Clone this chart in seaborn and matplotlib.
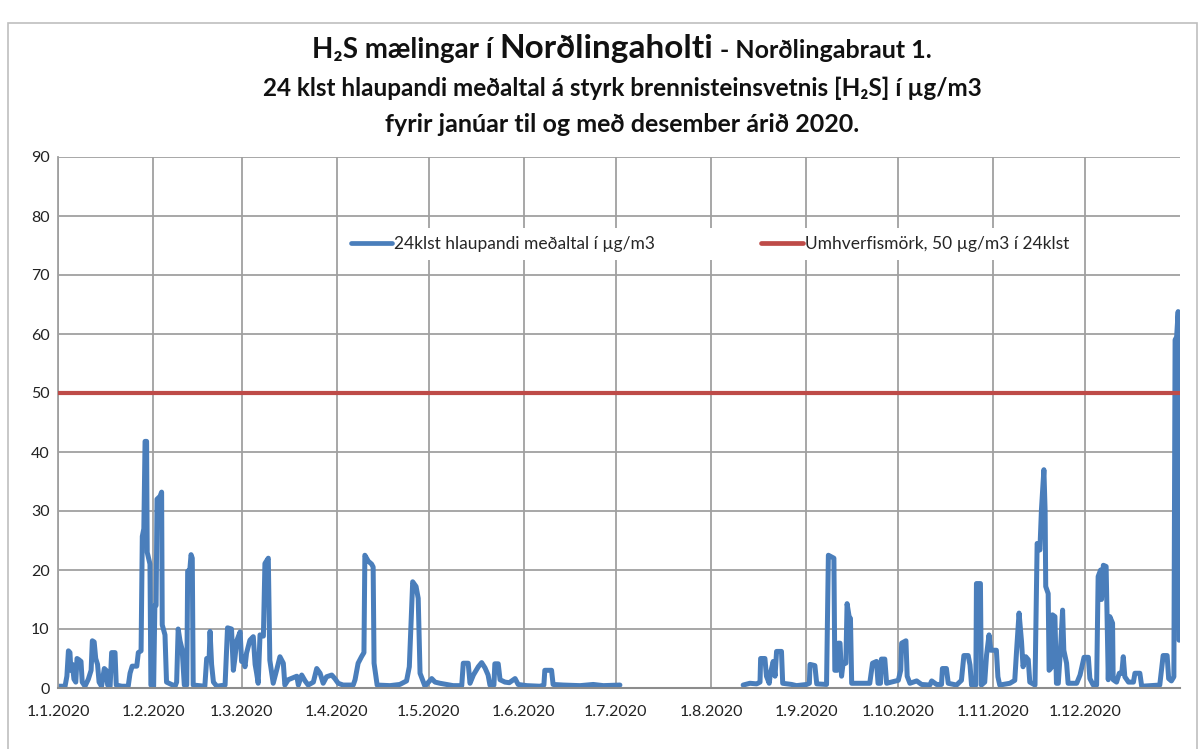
import pandas as pd
import seaborn as sns
import matplotlib.pyplot as plt
from matplotlib.patches import Rectangle

# 24h running mean of H2S (day of year 2020, ug/m3)
days_spring = [0.1, 2.3, 2.9, 3.4, 3.9, 4.2, 4.7, 5.2, 5.8, 6.2, 6.8, 7.5, 7.9, 8.8, 9.9, 10.8, 11.2, 11.8,
               12.3, 12.9, 13.4, 14.2, 15.1, 15.7, 16.2, 17.0, 17.5, 18.6, 19.0, 20.8, 22.9, 23.5, 24.2, 25.7,
               26.2, 27.1, 27.5, 28.0, 28.4, 28.9, 29.1, 30.0, 30.3, 31.2, 31.6, 32.0, 32.3, 33.3, 33.8, 34.0,
               34.9, 35.4, 38.2, 38.7, 39.2, 39.8, 40.5, 41.2, 42.0, 42.3, 43.0, 43.4, 43.8, 44.1, 47.9, 48.5,
               49.3, 49.6, 50.1, 50.7, 51.8, 54.5, 55.3, 56.6, 57.2, 57.7, 58.3, 59.4, 59.9, 60.4, 61.0, 61.5,
               62.6, 63.7, 64.3, 64.8, 65.3, 65.9, 67.0, 67.5, 68.6, 69.1, 70.2, 71.3, 72.4, 73.5, 74.0, 75.1,
               77.9, 78.4, 79.5, 80.6, 81.6, 83.3, 84.4, 85.5, 86.5, 87.6, 89.3, 90.3, 91.4, 93.0, 96.3, 96.9,
               97.9, 99.0, 99.8, 100.1, 101.2, 102.3, 102.8, 103.1, 103.7, 104.1, 108.3, 111.5, 113.7, 114.6,
               115.7, 116.8, 117.5, 118.1, 119.2, 119.7, 121.9, 123.0, 124.6, 128.9, 131.7, 132.2, 133.8,
               134.4, 135.5, 137.1, 138.2, 139.3, 140.3, 140.9, 142.2, 142.5, 143.6, 144.2, 145.8, 147.2,
               149.1, 150.1, 152.9, 157.2, 158.5, 158.8, 161.0, 161.5, 164.8, 170.3, 174.6, 177.9, 183.3]
h2s_spring = [0.3, 0.3, 2.0, 6.3, 6.0, 3.0, 4.0, 1.5, 1.0, 5.0, 4.8, 4.5, 1.0, 0.3, 1.5, 3.0, 8.0, 7.8,
              5.0, 4.0, 1.0, 0.3, 3.3, 3.0, 0.5, 0.3, 6.0, 6.0, 0.5, 0.3, 0.3, 2.5, 3.7, 3.7,
              6.0, 6.3, 25.7, 27.0, 41.8, 41.8, 23.0, 21.0, 0.5, 0.3, 14.0, 14.0, 32.0, 32.5, 33.2, 10.7,
              9.0, 1.0, 0.3, 1.0, 10.0, 8.0, 6.5, 0.5, 0.5, 19.8, 20.0, 22.6, 22.0, 0.5, 0.3, 5.0,
              5.0, 9.6, 4.0, 1.0, 0.3, 0.5, 10.2, 10.0, 3.0, 5.0, 8.0, 9.5, 4.5, 5.3, 3.6, 5.9,
              8.1, 8.7, 4.0, 2.5, 0.8, 9.0, 8.8, 21.1, 22.0, 4.7, 0.8, 3.0, 5.3, 4.2, 0.5, 1.4,
              2.0, 0.5, 2.2, 1.2, 0.5, 1.0, 3.3, 2.5, 0.8, 1.9, 2.2, 1.6, 0.8, 0.5, 0.5, 1.4,
              4.2, 5.3, 6.0, 22.5, 21.5, 21.0, 20.5, 4.2, 2.0, 0.5, 0.4, 0.6, 1.2, 3.6,
              18.0, 17.2, 15.2, 2.5, 1.0, 0.3, 1.6, 1.0, 0.8, 0.4, 0.4, 4.2, 4.2,
              0.8, 2.2, 3.6, 4.3, 3.4, 2.2, 0.5, 0.5, 4.1, 4.1, 1.4, 1.0, 0.9,
              1.6, 0.6, 0.4, 0.3, 0.5, 3.0, 3.0, 0.6, 0.5, 0.4, 0.6, 0.4, 0.5]

days_autumn = [223.5, 225.7, 227.9, 229.0, 229.2, 230.6, 231.1, 232.0, 232.4, 233.3, 233.9, 234.4, 236.0,
               236.4, 239.3, 240.9, 244.2, 245.1, 245.3, 246.9, 247.5, 250.7, 251.3, 253.1, 253.4, 254.2,
               254.5, 255.1, 255.6, 256.1, 257.0, 257.4, 258.1, 258.5, 258.9, 264.8, 265.7, 267.0, 267.5,
               268.3, 268.6, 269.7, 270.3, 274.1, 274.9, 275.2, 276.6, 277.0, 277.9, 280.1, 281.7, 284.4,
               285.0, 286.6, 288.2, 288.5, 289.8, 290.4, 293.1, 294.7, 295.5, 296.9, 297.5, 298.0, 299.4,
               299.6, 300.9, 301.2, 302.3, 302.9, 303.7, 304.3, 306.1, 306.6, 307.2, 310.5, 312.1, 312.7,
               313.5, 314.3, 314.8, 315.7, 316.5, 317.0, 318.7, 319.4, 320.3, 320.8, 321.6, 322.0, 322.2,
               323.0, 323.3, 324.1, 324.4, 325.2, 325.7, 326.3, 327.0, 327.7, 328.1, 329.0, 329.5, 332.3,
               333.4, 334.7, 336.1, 336.6, 337.7, 338.8, 339.3, 340.1, 340.4, 341.0, 341.9, 342.6, 343.1,
               344.0, 344.2, 345.3, 346.2, 347.0, 347.5, 348.0, 349.2, 350.8, 351.3, 352.9, 353.5, 359.4,
               360.5, 361.8, 362.3, 363.2, 364.0, 364.4, 364.9, 365.4, 365.7]
h2s_autumn = [0.5, 0.8, 0.7, 1.0, 5.0, 5.0, 2.0, 0.8, 2.5, 4.5, 2.0, 6.2, 6.2,
              0.8, 0.6, 0.4, 0.6, 0.8, 4.0, 3.8, 0.7, 0.6, 22.5, 22.0, 3.0, 3.0,
              7.6, 7.6, 2.0, 4.2, 4.2, 14.3, 12.0, 11.8, 0.8, 0.8, 4.2, 4.5, 0.8,
              0.8, 4.9, 4.9, 0.8, 1.3, 3.0, 7.6, 8.0, 2.0, 0.8, 1.2, 0.6, 0.5,
              1.2, 0.6, 0.6, 3.3, 3.3, 0.8, 0.5, 1.3, 5.5, 5.5, 3.9, 0.5, 0.5,
              17.7, 17.7, 0.5, 1.0, 5.6, 9.0, 6.4, 6.4, 1.9, 0.5, 0.8, 1.3, 6.4,
              12.7, 7.9, 3.6, 5.3, 4.8, 1.0, 0.5, 24.5, 23.4, 30.2, 37.0, 30.0, 17.2,
              16.0, 3.0, 3.5, 12.4, 12.1, 0.8, 0.8, 6.4, 13.2, 6.4, 4.2, 0.8, 0.8,
              2.2, 5.2, 5.2, 1.6, 0.5, 0.5, 18.9, 20.0, 15.0, 20.8, 20.6, 1.4, 12.1,
              11.0, 1.4, 1.0, 2.5, 2.5, 5.3, 1.9, 1.0, 1.0, 2.5, 2.5, 0.3, 0.5,
              5.5, 5.5, 1.6, 1.2, 1.9, 59.0, 59.5, 63.8, 8.1]

limit_value = 50
month_labels = ["1.1.2020", "1.2.2020", "1.3.2020", "1.4.2020", "1.5.2020", "1.6.2020",
                "1.7.2020", "1.8.2020", "1.9.2020", "1.10.2020", "1.11.2020", "1.12.2020"]
y_ticks = [0, 10, 20, 30, 40, 50, 60, 70, 80, 90]

series_label = "24klst hlaupandi meðaltal í µg/m3"
limit_label = "Umhverfismörk, 50 µg/m3 í 24klst"

blue = "#4a7ebb"
red = "#be4b48"

start = pd.Timestamp("2020-01-01")
spring = pd.DataFrame({"date": start + pd.to_timedelta(days_spring, unit="D"), "h2s": h2s_spring})
autumn = pd.DataFrame({"date": start + pd.to_timedelta(days_autumn, unit="D"), "h2s": h2s_autumn})

sns.set_theme(style="whitegrid")
plt.rcParams["font.family"] = ["Lato", "DejaVu Sans"]

W, H = 1203, 749
fig = plt.figure(figsize=(W / 100, H / 100), dpi=100)
fig.patch.set_facecolor("white")
ax = fig.add_axes([58 / W, 1 - 688 / H, (1180 - 58) / W, (688 - 157) / H])

sns.lineplot(data=spring, x="date", y="h2s", ax=ax, color=blue, lw=3.6, estimator=None, sort=False,
             label=series_label)
sns.lineplot(data=autumn, x="date", y="h2s", ax=ax, color=blue, lw=3.6, estimator=None, sort=False)
ax.axhline(limit_value, color=red, lw=3.0, label=limit_label, zorder=3)

ax.set_xlim(start, pd.Timestamp("2021-01-01"))
ax.set_ylim(0, 90)
ax.set_yticks(y_ticks)
ax.set_xticks(pd.date_range(start, periods=12, freq="MS"))
ax.set_xticklabels(month_labels)
ax.set_xlabel("")
ax.set_ylabel("")
ax.set_facecolor("white")
ax.grid(True, color="#a0a0a0", lw=1.3)
for side in ["top", "right"]:
    ax.spines[side].set_visible(False)
ax.spines["left"].set_color("#a0a0a0")
ax.spines["bottom"].set_color("#8c8c8c")
ax.spines["left"].set_linewidth(1.3)
ax.spines["bottom"].set_linewidth(1.5)
ax.tick_params(axis="x", labelsize=11.5, pad=12, colors="#222222", length=0)
ax.tick_params(axis="y", labelsize=11.5, pad=6, colors="#222222", length=0)

leg = ax.legend(loc="center left", bbox_to_anchor=((343 - 58) / 1122, (688 - 244) / 531),
                ncol=2, frameon=True, facecolor="white", edgecolor="none", framealpha=1,
                fontsize=12.5, handlelength=2.4, handletextpad=0.1, columnspacing=6.1,
                borderaxespad=0, borderpad=0.45)
for line in leg.get_lines():
    line.set_linewidth(3.4)

# outer chart border
fig.add_artist(Rectangle((8 / W, -0.01), (1197 - 8) / W, (H - 23) / H + 0.01,
                         transform=fig.transFigure, fill=False, edgecolor="#bfbfbf", lw=1.2))

# title, three lines, first one with mixed sizes
renderer = fig.canvas.get_renderer()


def title_line(parts, baseline, center=622):
    texts = []
    for s, size in parts:
        t = fig.text(0, 1 - baseline / H, s, fontsize=size, fontweight="bold", va="baseline",
                     ha="left", color="#111111")
        texts.append(t)
    widths = [t.get_window_extent(renderer).width for t in texts]
    gap = 7
    x = center - (sum(widths) + gap * (len(texts) - 1)) / 2
    for t, w in zip(texts, widths):
        t.set_x(x / W)
        x += w + gap


title_line([("H₂S mælingar í", 20), ("Norðlingaholti", 24), ("- Norðlingabraut 1.", 18)], 58)
title_line([("24 klst hlaupandi meðaltal á styrk brennisteinsvetnis [H₂S] í µg/m3", 17.5)], 96)
title_line([("fyrir janúar til og með desember árið 2020.", 18)], 132)

fig.savefig("out.png", dpi=100, facecolor="white")
